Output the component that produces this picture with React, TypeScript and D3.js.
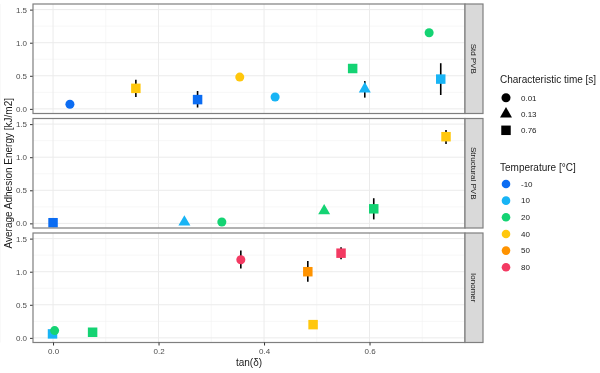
import * as d3 from "d3"
import { useRef, useEffect } from "react"

// facets
const materials = ["Std PVB", "Structural PVB", "Ionomer"]

// one entry per point
const pointMaterial = [
  "Std PVB", "Std PVB", "Std PVB", "Std PVB", "Std PVB", "Std PVB", "Std PVB", "Std PVB", "Std PVB",
  "Structural PVB", "Structural PVB", "Structural PVB", "Structural PVB", "Structural PVB", "Structural PVB",
  "Ionomer", "Ionomer", "Ionomer", "Ionomer", "Ionomer", "Ionomer", "Ionomer",
]
const tanDelta = [
  0.032, 0.157, 0.274, 0.354, 0.421, 0.568, 0.591, 0.713, 0.735,
  0.0, 0.249, 0.32, 0.514, 0.608, 0.745,
  -0.001, 0.003, 0.075, 0.356, 0.483, 0.493, 0.546,
]
const energy = [
  0.07, 0.31, 0.14, 0.48, 0.18, 0.61, 0.3, 1.15, 0.45,
  0.01, 0.02, 0.02, 0.19, 0.22, 1.31,
  0.06, 0.11, 0.085, 1.18, 1.0, 0.2, 1.28,
]
const energyLow = [
  0.07, 0.18, 0.02, 0.48, 0.18, 0.61, 0.17, 1.15, 0.21,
  0.01, 0.02, 0.02, 0.14, 0.06, 1.2,
  0.06, 0.11, 0.085, 1.05, 0.85, 0.2, 1.19,
]
const energyHigh = [
  0.07, 0.44, 0.27, 0.48, 0.18, 0.61, 0.42, 1.15, 0.69,
  0.01, 0.02, 0.02, 0.21, 0.38, 1.41,
  0.06, 0.11, 0.085, 1.32, 1.16, 0.2, 1.37,
]
const charTime = [
  "0.01", "0.76", "0.76", "0.01", "0.01", "0.76", "0.13", "0.01", "0.76",
  "0.76", "0.13", "0.01", "0.13", "0.76", "0.76",
  "0.76", "0.01", "0.76", "0.01", "0.76", "0.76", "0.76",
]
const temperature = [
  "-10", "40", "-10", "40", "10", "20", "10", "20", "10",
  "-10", "10", "20", "20", "20", "40",
  "10", "20", "20", "80", "50", "40", "80",
]

const timeLevels = ["0.01", "0.13", "0.76"]
const tempLevels = ["-10", "10", "20", "40", "50", "80"]
const tempColors = ["#0B6CF2", "#18B4F5", "#14D373", "#FFC70C", "#FF9300", "#F33A62"]
const xTicks = [0, 0.2, 0.4, 0.6]
const yTicks = [0, 0.5, 1.0, 1.5]

export default function App() {
  const ref = useRef<SVGSVGElement>(null)

  useEffect(() => {
    const width = 600
    const height = 373
    const panelLeft = 33
    const panelRight = 465
    const stripW = 18
    const panelH = 109.5
    const panelTops = [4, 118.5, 233]

    const svg = d3.select(ref.current)
    svg.selectAll("*").remove()
    svg.attr("width", width).attr("height", height)
      .style("font-family", "'Liberation Sans', Arial, sans-serif")

    const x = d3.scaleLinear().domain([-0.038, 0.781]).range([panelLeft, panelRight])
    const color = d3.scaleOrdinal<string, string>().domain(tempLevels).range(tempColors)
    const shape = d3.scaleOrdinal<string, d3.SymbolType>()
      .domain(timeLevels).range([d3.symbolCircle, d3.symbolTriangle, d3.symbolSquare])
    const symSize = d3.scaleOrdinal<string, number>().domain(timeLevels).range([64, 62, 90])

    const idx = d3.range(tanDelta.length)

    materials.forEach((m, pi) => {
      const top = panelTops[pi]
      const y = d3.scaleLinear().domain([-0.07, 1.585]).range([top + panelH, top])
      const g = svg.append("g")

      g.append("rect")
        .attr("x", panelLeft).attr("y", top)
        .attr("width", panelRight - panelLeft).attr("height", panelH)
        .attr("fill", "white")

      // minor grid
      const xMinor = [-0.1, 0.1, 0.3, 0.5, 0.7]
      const yMinor = [0.25, 0.75, 1.25]
      g.selectAll(".xminor").data(xMinor).join("line")
        .attr("x1", d => x(d)).attr("x2", d => x(d))
        .attr("y1", top).attr("y2", top + panelH)
        .attr("stroke", "#F2F2F2").attr("stroke-width", 0.6)
      g.selectAll(".yminor").data(yMinor).join("line")
        .attr("x1", panelLeft).attr("x2", panelRight)
        .attr("y1", d => y(d)).attr("y2", d => y(d))
        .attr("stroke", "#F2F2F2").attr("stroke-width", 0.6)
      // major grid
      g.selectAll(".xmajor").data(xTicks).join("line")
        .attr("x1", d => x(d)).attr("x2", d => x(d))
        .attr("y1", top).attr("y2", top + panelH)
        .attr("stroke", "#EBEBEB").attr("stroke-width", 1)
      g.selectAll(".ymajor").data(yTicks).join("line")
        .attr("x1", panelLeft).attr("x2", panelRight)
        .attr("y1", d => y(d)).attr("y2", d => y(d))
        .attr("stroke", "#EBEBEB").attr("stroke-width", 1)

      // y axis
      const yAxis = g.append("g")
        .attr("transform", `translate(${panelLeft},0)`)
        .call(d3.axisLeft(y).tickValues(yTicks).tickFormat(d3.format(".1f")).tickSize(3).tickPadding(3))
      yAxis.select(".domain").remove()
      yAxis.selectAll(".tick line").attr("stroke", "#333")
      yAxis.selectAll(".tick text").attr("fill", "#4D4D4D").style("font-size", "8px")

      const pts = idx.filter(i => pointMaterial[i] === m)

      g.selectAll(".err").data(pts).join("line")
        .attr("x1", i => x(tanDelta[i])).attr("x2", i => x(tanDelta[i]))
        .attr("y1", i => y(energyLow[i])).attr("y2", i => y(energyHigh[i]))
        .attr("stroke", "black").attr("stroke-width", 1.6)

      g.selectAll(".pt").data(pts).join("path")
        .attr("transform", i => `translate(${x(tanDelta[i])},${y(energy[i])})`)
        .attr("d", i => d3.symbol(shape(charTime[i]), symSize(charTime[i]))())
        .attr("fill", i => color(temperature[i]))

      // panel border
      g.append("rect")
        .attr("x", panelLeft).attr("y", top)
        .attr("width", panelRight - panelLeft).attr("height", panelH)
        .attr("fill", "none").attr("stroke", "#7F7F7F").attr("stroke-width", 1.2)

      // strip
      g.append("rect")
        .attr("x", panelRight).attr("y", top)
        .attr("width", stripW).attr("height", panelH)
        .attr("fill", "#D9D9D9").attr("stroke", "#7F7F7F").attr("stroke-width", 1.2)
      g.append("text")
        .attr("transform", `translate(${panelRight + stripW / 2},${top + panelH / 2}) rotate(90)`)
        .attr("text-anchor", "middle").attr("dy", "0.35em")
        .attr("fill", "#1A1A1A").style("font-size", "8px")
        .text(m)
    })

    // x axis
    const bottom = panelTops[2] + panelH
    const xAxis = svg.append("g")
      .attr("transform", `translate(0,${bottom})`)
      .call(d3.axisBottom(x).tickValues(xTicks).tickFormat(d3.format(".1f")).tickSize(3).tickPadding(3))
    xAxis.select(".domain").remove()
    xAxis.selectAll(".tick line").attr("stroke", "#333")
    xAxis.selectAll(".tick text").attr("fill", "#4D4D4D").style("font-size", "8px")

    svg.append("text")
      .attr("x", (panelLeft + panelRight) / 2).attr("y", 366)
      .attr("text-anchor", "middle").style("font-size", "10px").attr("fill", "#1A1A1A")
      .text("tan(δ)")
    svg.append("text")
      .attr("transform", `translate(12,${(panelTops[0] + bottom) / 2}) rotate(-90)`)
      .attr("text-anchor", "middle").style("font-size", "10px").attr("fill", "#1A1A1A")
      .text("Average Adhesion Energy [kJ/m2]")

    // legends
    const lx = 500
    const leg = svg.append("g")
    leg.append("text").attr("x", lx).attr("y", 83).style("font-size", "10px").attr("fill", "#1A1A1A")
      .text("Characteristic time [s]")
    leg.selectAll(".lt").data(timeLevels).join("g")
      .attr("transform", (d, i) => `translate(${lx + 6},${97.7 + i * 16.3})`)
      .each(function (d) {
        const gg = d3.select(this)
        gg.append("path").attr("d", d3.symbol(shape(d), symSize(d))()).attr("fill", "black")
        gg.append("text").attr("x", 15).attr("dy", "0.35em").style("font-size", "8px").attr("fill", "#1A1A1A").text(d)
      })
    leg.append("text").attr("x", lx).attr("y", 170.5).style("font-size", "10px").attr("fill", "#1A1A1A")
      .text("Temperature [°C]")
    leg.selectAll(".lc").data(tempLevels).join("g")
      .attr("transform", (d, i) => `translate(${lx + 6},${184 + i * 16.65})`)
      .each(function (d) {
        const gg = d3.select(this)
        gg.append("circle").attr("r", 4.3).attr("fill", color(d))
        gg.append("text").attr("x", 15).attr("dy", "0.35em").style("font-size", "8px").attr("fill", "#1A1A1A").text(d)
      })
  }, [])

  return (
    <div style={{ position: "fixed", left: 0, top: 0, width: 600, height: 373, overflow: "hidden" }}>
      <svg ref={ref} style={{ display: "block" }}></svg>
    </div>
  )
}
